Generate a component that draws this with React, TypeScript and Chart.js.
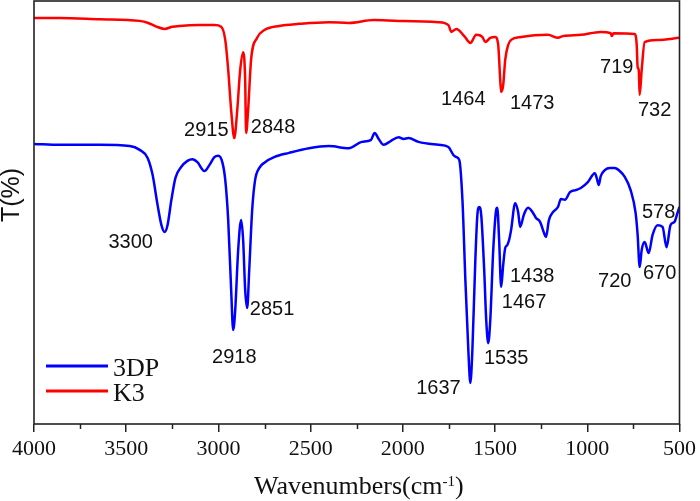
import React, { useEffect, useRef } from "react";
import { Chart, registerables } from "chart.js";
Chart.register(...registerables);

// ---- Data ----
const seriesNames = ["3DP", "K3"];
const seriesColors = ["#0000ff", "#ff0000"];

const xMin = 500;
const xMax = 4000;
const xStep = 500;
const minorTicks = [3750, 3250, 2750, 2250, 1750, 1250, 750];

const k3Wavenumbers = [
  4000, 3860, 3644, 3427, 3380, 3340, 3292, 3250, 3211, 3103, 3022, 2985, 2963, 2947, 2931, 2914, 2898, 2882,
  2866, 2855, 2850, 2839, 2823, 2790, 2752, 2671, 2563, 2401, 2293, 2158, 2023, 1807, 1753, 1737,
  1710, 1667, 1634, 1602, 1569, 1553, 1526, 1499, 1483, 1472, 1467, 1456, 1445, 1429, 1413, 1359,
  1213, 1159, 1132, 1035, 927, 873, 867, 857, 743, 732, 727, 721, 716, 705, 689, 619, 500,
];
const k3Transmittance = [
  96.0, 96.0, 95.7, 95.3, 94.8, 94.0, 93.4, 93.9, 94.1, 94.3, 94.3, 93.9, 90.8, 83.7, 74.2, 67.6, 74.2, 83.7,
  87.9, 81.3, 68.8, 74.2, 86.1, 91.3, 93.1, 94.1, 94.6, 95.0, 94.8, 95.5, 95.3, 95.0, 94.3, 92.7,
  93.4, 91.7, 90.1, 92.0, 91.5, 90.3, 91.3, 91.5, 89.6, 81.3, 78.5, 80.1, 86.1, 89.6, 90.8, 91.5,
  92.0, 91.3, 91.7, 92.0, 92.7, 92.4, 91.7, 92.4, 92.2, 89.6, 84.4, 83.7, 77.8, 83.7, 90.3, 90.8, 91.3,
];

const dp3Wavenumbers = [
  4000, 3860, 3644, 3481, 3427, 3384, 3357, 3330, 3309, 3292, 3276, 3255, 3233, 3201, 3168, 3141,
  3114, 3076, 3049, 3022, 3001, 2979, 2963, 2947, 2931, 2920, 2909, 2893, 2877, 2866, 2855, 2844,
  2833, 2817, 2801, 2779, 2747, 2698, 2617, 2509, 2401, 2293, 2223, 2174, 2153, 2131, 2104, 2066,
  2023, 1996, 1969, 1915, 1807, 1753, 1726, 1710, 1694, 1677, 1661, 1645, 1634, 1623, 1607, 1596,
  1586, 1575, 1559, 1548, 1537, 1526, 1510, 1494, 1488, 1478, 1467, 1456, 1445, 1434, 1424, 1413,
  1391, 1375, 1364, 1343, 1321, 1294, 1278, 1256, 1235, 1224, 1208, 1186, 1159, 1143, 1121, 1094,
  1062, 1035, 997, 959, 949, 938, 927, 905, 878, 851, 824, 797, 765, 738, 727, 716, 705, 689, 667,
  646, 619, 592, 570, 549, 527, 511, 500,
];
const dp3Transmittance = [
  66.2, 66.0, 66.0, 65.7, 64.8, 62.9, 58.9, 51.8, 47.0, 45.4, 47.0, 53.0, 58.2, 60.8, 62.2, 62.6,
  61.9, 59.8, 61.2, 63.1, 63.4, 61.9, 57.7, 48.2, 31.7, 22.2, 26.9, 41.1, 48.2, 43.5, 31.7, 27.4,
  36.4, 50.6, 57.7, 60.5, 61.9, 63.1, 64.1, 65.2, 65.7, 65.2, 66.7, 67.1, 68.8, 67.4, 66.0, 66.9,
  67.8, 67.4, 67.6, 66.7, 66.0, 65.5, 63.6, 63.1, 62.4, 53.0, 34.0, 17.5, 9.7, 17.5, 38.8, 49.4,
  51.3, 49.4, 36.4, 24.6, 19.1, 24.6, 41.1, 50.6, 51.1, 43.5, 32.4, 37.6, 41.6, 42.3, 43.5, 45.9,
  52.2, 50.1, 46.6, 49.6, 51.1, 49.9, 48.7, 47.8, 45.2, 44.2, 48.2, 50.1, 51.3, 53.2, 53.0, 54.8,
  55.3, 55.8, 57.2, 59.3, 58.2, 56.5, 58.6, 60.0, 60.5, 60.5, 59.8, 58.4, 55.3, 49.9, 44.7, 37.1,
  41.1, 43.0, 40.4, 44.7, 47.0, 46.6, 41.8, 47.0, 47.8, 49.9, 51.3,
];

// Peak annotations (text, anchored in data coordinates)
const peakTexts = [
  "2915", "2848", "1464", "1473", "719", "732",
  "3300", "2918", "2851", "1637", "1535", "1467", "1438", "720", "670", "578",
];
const peakAtWavenumber = [
  3066, 2704, 1672, 1299, 840, 635,
  3476, 2914, 2709, 1807, 1440, 1343, 1299, 851, 608, 613,
];
const peakAtTransmittance = [
  69.5, 70.0, 76.6, 75.7, 84.4, 74.2,
  42.8, 15.8, 27.0, 8.3, 15.4, 28.8, 34.8, 33.8, 35.5, 50.1,
];

const xTitleMain = "Wavenumbers(cm";
const xTitleSup = "-1";
const xTitleEnd = ")";
const yTitle = "T(%)";

const toPoints = (xs: number[], ys: number[]) => xs.map((x, i) => ({ x, y: ys[i] }));

const decorPlugin = {
  id: "decor",
  afterDatasetsDraw(chart: any) {
    const { ctx, chartArea, scales } = chart;
    const xs = scales.x;
    const ys = scales.y;
    ctx.save();
    // frame
    ctx.strokeStyle = "#222";
    ctx.lineWidth = 1.6;
    ctx.strokeRect(chartArea.left, chartArea.top, chartArea.right - chartArea.left, chartArea.bottom - chartArea.top);
    // minor ticks
    ctx.lineWidth = 1.5;
    minorTicks.forEach((v) => {
      const px = Math.round(xs.getPixelForValue(v)) + 0.5;
      ctx.beginPath();
      ctx.moveTo(px, chartArea.bottom);
      ctx.lineTo(px, chartArea.bottom + 5);
      ctx.stroke();
    });
    // peak labels
    ctx.fillStyle = "#111";
    ctx.font = '20px "Liberation Sans", Arial, sans-serif';
    ctx.textAlign = "center";
    ctx.textBaseline = "middle";
    peakTexts.forEach((t, i) => {
      ctx.fillText(t, xs.getPixelForValue(peakAtWavenumber[i]), ys.getPixelForValue(peakAtTransmittance[i]));
    });
    // legend
    const legendY = [366, 391];
    chart.data.datasets.forEach((ds: any, i: number) => {
      ctx.strokeStyle = ds.borderColor;
      ctx.lineWidth = 3;
      ctx.beginPath();
      ctx.moveTo(46, legendY[i]);
      ctx.lineTo(108, legendY[i]);
      ctx.stroke();
      ctx.fillStyle = "#111";
      ctx.font = '26px "Liberation Serif", "Times New Roman", serif';
      ctx.textAlign = "left";
      ctx.textBaseline = "alphabetic";
      ctx.fillText(ds.label, 113, legendY[i] + 10);
    });
    // x title with superscript
    ctx.fillStyle = "#111";
    const mainFont = '26px "Liberation Serif", "Times New Roman", serif';
    const supFont = '15px "Liberation Serif", "Times New Roman", serif';
    ctx.font = mainFont;
    const w1 = ctx.measureText(xTitleMain).width;
    const w3 = ctx.measureText(xTitleEnd).width;
    ctx.font = supFont;
    const w2 = ctx.measureText(xTitleSup).width;
    const total = w1 + w2 + w3;
    const cx = (chartArea.left + chartArea.right) / 2 + 2;
    const x0 = cx - total / 2;
    const base = 494;
    ctx.textAlign = "left";
    ctx.textBaseline = "alphabetic";
    ctx.font = mainFont;
    ctx.fillText(xTitleMain, x0, base);
    ctx.font = supFont;
    ctx.fillText(xTitleSup, x0 + w1, base - 8);
    ctx.font = mainFont;
    ctx.fillText(xTitleEnd, x0 + w1 + w2, base);
    // y title
    ctx.save();
    ctx.translate(12, 195);
    ctx.rotate(-Math.PI / 2);
    ctx.font = '25px "Liberation Sans", Arial, sans-serif';
    ctx.textAlign = "center";
    ctx.textBaseline = "middle";
    ctx.fillText(yTitle, 0, 0);
    ctx.restore();
    ctx.restore();
  },
};

export default function App() {
  const ref = useRef<HTMLCanvasElement | null>(null);
  useEffect(() => {
    document.body.style.margin = "0";
    if (!ref.current) return;
    const chart = new Chart(ref.current, {
      type: "line",
      data: {
        datasets: [
          {
            label: seriesNames[0],
            data: toPoints(dp3Wavenumbers, dp3Transmittance),
            borderColor: seriesColors[0],
            borderWidth: 2.5,
            pointRadius: 0,
            cubicInterpolationMode: "monotone",
            borderJoinStyle: "round",
          },
          {
            label: seriesNames[1],
            data: toPoints(k3Wavenumbers, k3Transmittance),
            borderColor: seriesColors[1],
            borderWidth: 2.5,
            pointRadius: 0,
            cubicInterpolationMode: "monotone",
            borderJoinStyle: "round",
          },
        ],
      },
      options: {
        animation: false,
        responsive: false,
        devicePixelRatio: 1,
        layout: { padding: { top: 1, right: 18, left: 0, bottom: 0 } },
        plugins: { legend: { display: false }, tooltip: { enabled: false } },
        scales: {
          x: {
            type: "linear",
            min: xMin,
            max: xMax,
            reverse: true,
            afterFit: (s: any) => {
              s.height = 77;
            },
            ticks: {
              stepSize: xStep,
              autoSkip: false,
              maxRotation: 0,
              padding: 4,
              color: "#111",
              font: { family: '"Liberation Serif", "Times New Roman", serif', size: 22 },
              callback: (v: any) => String(v),
            },
            grid: {
              drawOnChartArea: false,
              drawTicks: true,
              tickLength: 8,
              color: "#222",
              lineWidth: 1.5,
            },
            border: { display: false },
          },
          y: {
            min: 0,
            max: 100,
            afterFit: (s: any) => {
              s.width = 34;
            },
            ticks: { display: false },
            grid: { display: false },
            border: { display: false },
          },
        },
      },
      plugins: [decorPlugin],
    } as any);
    return () => chart.destroy();
  }, []);
  return (
    <div style={{ width: 700, height: 501, background: "#fff" }}>
      <canvas ref={ref} width={700} height={501} />
    </div>
  );
}
